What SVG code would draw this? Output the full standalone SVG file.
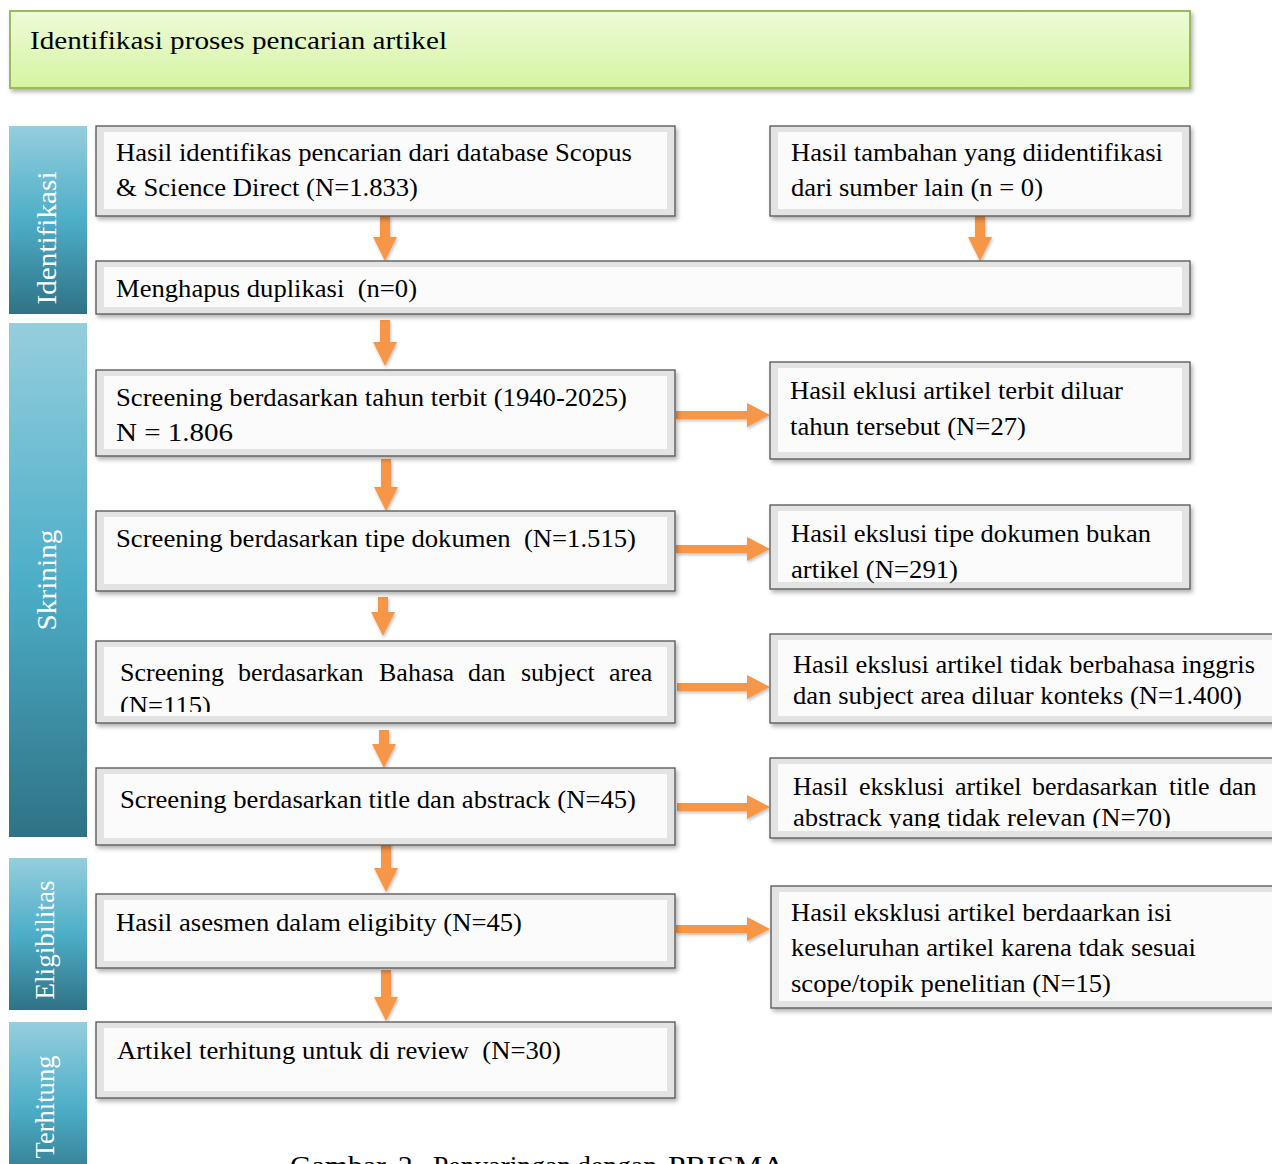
<svg xmlns="http://www.w3.org/2000/svg" width="1272" height="1164" viewBox="0 0 1272 1164">
<style>
text{font-family:"Liberation Serif","Times New Roman",serif;font-size:26px;fill:#000;white-space:pre}
.side{fill:#fff;font-size:27px}
.ob{fill:#e3e3e3;stroke:#555;stroke-width:1.3}
.ib{fill:#fbfbfb}
.arr{fill:#f79646}
</style>
<defs>
<linearGradient id="gHead" x1="0" y1="0" x2="0" y2="1">
<stop offset="0" stop-color="#eefbd8"/><stop offset="1" stop-color="#d5f4a2"/>
</linearGradient>
<linearGradient id="gSide" x1="0" y1="0" x2="0" y2="1">
<stop offset="0" stop-color="#95cedd"/><stop offset="0.5" stop-color="#4daec8"/><stop offset="1" stop-color="#2f7285"/>
</linearGradient>
<filter id="sh" x="-5%" y="-10%" width="110%" height="130%">
<feDropShadow dx="2" dy="3" stdDeviation="2" flood-color="#000" flood-opacity="0.3"/>
</filter>
<filter id="ash" x="-30%" y="-30%" width="160%" height="160%">
<feDropShadow dx="1" dy="2" stdDeviation="1.5" flood-color="#000" flood-opacity="0.25"/>
</filter>
<clipPath id="c5"><rect x="96" y="641" width="580" height="71"/></clipPath>
<clipPath id="cR5"><rect x="770" y="758" width="502" height="70"/></clipPath>
</defs>
<rect width="1272" height="1164" fill="#fff"/>

<g id="header">
<rect x="10" y="11" width="1180" height="77" fill="url(#gHead)" stroke="#9bbb59" stroke-width="2" filter="url(#sh)"/>
<text x="30" y="49" textLength="417" lengthAdjust="spacingAndGlyphs">Identifikasi proses pencarian artikel</text>
</g>

<g id="side-identifikasi">
<rect x="9" y="126" width="78" height="188" fill="url(#gSide)"/>
<text class="side" transform="translate(56,238) rotate(-90)" text-anchor="middle" textLength="133" lengthAdjust="spacingAndGlyphs">Identifikasi</text>
</g>
<g id="side-skrining">
<rect x="9" y="323" width="78" height="514" fill="url(#gSide)"/>
<text class="side" transform="translate(56,580) rotate(-90)" text-anchor="middle" textLength="101" lengthAdjust="spacingAndGlyphs">Skrining</text>
</g>
<g id="side-eligibilitas">
<rect x="9" y="858" width="78" height="152" fill="url(#gSide)"/>
<text class="side" transform="translate(54,940) rotate(-90)" text-anchor="middle" textLength="119" lengthAdjust="spacingAndGlyphs">Eligibilitas</text>
</g>
<g id="side-terhitung">
<rect x="9" y="1022" width="78" height="170" fill="url(#gSide)"/>
<text class="side" transform="translate(54,1107) rotate(-90)" text-anchor="middle" textLength="103" lengthAdjust="spacingAndGlyphs">Terhitung</text>
</g>

<g id="connectors" class="arr" filter="url(#ash)">
<polygon points="380,216 390,216 390,237 397,237 385,261 373,237 380,237"/>
<polygon points="975,216 985,216 985,237 992,237 980,261 968,237 975,237"/>
<polygon points="380,320 390,320 390,342 397,342 385,366 373,342 380,342"/>
<polygon points="381,459 391,459 391,487 398,487 386,511 374,487 381,487"/>
<polygon points="378,597 388,597 388,612 395,612 383,636 371,612 378,612"/>
<polygon points="379,730 389,730 389,744 396,744 384,768 372,744 379,744"/>
<polygon points="381,842 391,842 391,868 398,868 386,892 374,868 381,868"/>
<polygon points="381,970 391,970 391,997 398,997 386,1021 374,997 381,997"/>
<polygon points="676,411 747,411 747,403 770,415 747,427 747,419 676,419"/>
<polygon points="676,545 747,545 747,537 770,549 747,561 747,553 676,553"/>
<polygon points="677,683 747,683 747,675 770,687 747,699 747,691 677,691"/>
<polygon points="677,803 747,803 747,795 770,807 747,819 747,811 677,811"/>
<polygon points="676,925 747,925 747,917 770,929 747,941 747,933 676,933"/>
</g>

<g id="n-scopus">
<rect class="ob" x="96" y="126" width="579" height="90" filter="url(#sh)"/>
<rect class="ib" x="104" y="132" width="563" height="77"/>
<text x="116" y="161" textLength="516" lengthAdjust="spacingAndGlyphs">Hasil identifikas pencarian dari database Scopus</text>
<text x="116" y="196" textLength="302" lengthAdjust="spacingAndGlyphs">&amp; Science Direct (N=1.833)</text>
</g>
<g id="n-lain">
<rect class="ob" x="770" y="126" width="420" height="90" filter="url(#sh)"/>
<rect class="ib" x="778" y="132" width="404" height="77"/>
<text x="791" y="161" textLength="372" lengthAdjust="spacingAndGlyphs">Hasil tambahan yang diidentifikasi</text>
<text x="791" y="196" textLength="252" lengthAdjust="spacingAndGlyphs">dari sumber lain (n = 0)</text>
</g>
<g id="n-duplikasi">
<rect class="ob" x="96" y="261" width="1094" height="53" filter="url(#sh)"/>
<rect class="ib" x="104" y="267" width="1078" height="40"/>
<text x="116" y="297" textLength="301" lengthAdjust="spacingAndGlyphs">Menghapus duplikasi  (n=0)</text>
</g>
<g id="n-tahun">
<rect class="ob" x="96" y="370" width="579" height="86" filter="url(#sh)"/>
<rect class="ib" x="104" y="376" width="563" height="73"/>
<text x="116" y="406" textLength="511" lengthAdjust="spacingAndGlyphs">Screening berdasarkan tahun terbit (1940-2025)</text>
<text x="116" y="441" textLength="117" lengthAdjust="spacingAndGlyphs">N = 1.806</text>
</g>
<g id="n-ex-tahun">
<rect class="ob" x="770" y="362" width="420" height="97" filter="url(#sh)"/>
<rect class="ib" x="778" y="368" width="404" height="84"/>
<text x="790" y="399" textLength="333" lengthAdjust="spacingAndGlyphs">Hasil eklusi artikel terbit diluar</text>
<text x="790" y="435" textLength="236" lengthAdjust="spacingAndGlyphs">tahun tersebut (N=27)</text>
</g>
<g id="n-tipe">
<rect class="ob" x="96" y="511" width="579" height="80" filter="url(#sh)"/>
<rect class="ib" x="104" y="517" width="563" height="67"/>
<text x="116" y="547" textLength="520" lengthAdjust="spacingAndGlyphs">Screening berdasarkan tipe dokumen  (N=1.515)</text>
</g>
<g id="n-ex-tipe">
<rect class="ob" x="770" y="505" width="420" height="84" filter="url(#sh)"/>
<rect class="ib" x="778" y="511" width="404" height="71"/>
<text x="791" y="542" textLength="360" lengthAdjust="spacingAndGlyphs">Hasil ekslusi tipe dokumen bukan</text>
<text x="791" y="578" textLength="167" lengthAdjust="spacingAndGlyphs">artikel (N=291)</text>
</g>
<g id="n-bahasa">
<rect class="ob" x="96" y="641" width="579" height="82" filter="url(#sh)"/>
<rect class="ib" x="104" y="647" width="563" height="69"/>
<g clip-path="url(#c5)">
<text y="681"><tspan x="120">Screening</tspan> <tspan x="238">berdasarkan</tspan> <tspan x="379">Bahasa</tspan> <tspan x="468">dan</tspan> <tspan x="521">subject</tspan> <tspan x="609">area</tspan></text>
<text x="120" y="714" textLength="91" lengthAdjust="spacingAndGlyphs">(N=115)</text>
</g>
</g>
<g id="n-ex-bahasa">
<rect class="ob" x="770" y="634" width="510" height="89" filter="url(#sh)"/>
<rect class="ib" x="778" y="640" width="494" height="76"/>
<text x="793" y="673" textLength="462" lengthAdjust="spacingAndGlyphs">Hasil ekslusi artikel tidak berbahasa inggris</text>
<text x="793" y="704" textLength="449" lengthAdjust="spacingAndGlyphs">dan subject area diluar konteks (N=1.400)</text>
</g>
<g id="n-title">
<rect class="ob" x="96" y="768" width="579" height="77" filter="url(#sh)"/>
<rect class="ib" x="104" y="774" width="563" height="64"/>
<text x="120" y="808" textLength="516" lengthAdjust="spacingAndGlyphs">Screening berdasarkan title dan abstrack (N=45)</text>
</g>
<g id="n-ex-title">
<rect class="ob" x="770" y="758" width="510" height="80" filter="url(#sh)"/>
<rect class="ib" x="778" y="764" width="494" height="67"/>
<g clip-path="url(#cR5)">
<text y="795"><tspan x="793">Hasil</tspan> <tspan x="859">eksklusi</tspan> <tspan x="955">artikel</tspan> <tspan x="1032">berdasarkan</tspan> <tspan x="1169">title</tspan> <tspan x="1219">dan</tspan></text>
<text x="793" y="826" textLength="378" lengthAdjust="spacingAndGlyphs">abstrack yang tidak relevan (N=70)</text>
</g>
</g>
<g id="n-eligibility">
<rect class="ob" x="96" y="894" width="579" height="74" filter="url(#sh)"/>
<rect class="ib" x="104" y="900" width="563" height="61"/>
<text x="116" y="931" textLength="406" lengthAdjust="spacingAndGlyphs">Hasil asesmen dalam eligibity (N=45)</text>
</g>
<g id="n-ex-isi">
<rect class="ob" x="771" y="886" width="510" height="122" filter="url(#sh)"/>
<rect class="ib" x="779" y="892" width="494" height="109"/>
<text x="791" y="921" textLength="381" lengthAdjust="spacingAndGlyphs">Hasil eksklusi artikel berdaarkan isi</text>
<text x="791" y="956" textLength="405" lengthAdjust="spacingAndGlyphs">keseluruhan artikel karena tdak sesuai</text>
<text x="791" y="992" textLength="320" lengthAdjust="spacingAndGlyphs">scope/topik penelitian (N=15)</text>
</g>
<g id="n-review">
<rect class="ob" x="96" y="1022" width="579" height="76" filter="url(#sh)"/>
<rect class="ib" x="104" y="1028" width="563" height="63"/>
<text x="117" y="1059" textLength="444" lengthAdjust="spacingAndGlyphs">Artikel terhitung untuk di review  (N=30)</text>
</g>

<g id="caption">
<text y="1175" style="font-size:28px"><tspan x="290" textLength="96" lengthAdjust="spacingAndGlyphs">Gambar</tspan><tspan x="398" textLength="22" lengthAdjust="spacingAndGlyphs">2.</tspan><tspan x="433" textLength="138" lengthAdjust="spacingAndGlyphs">Penyaringan</tspan><tspan x="577" textLength="80" lengthAdjust="spacingAndGlyphs">dengan</tspan><tspan x="668" textLength="117" lengthAdjust="spacingAndGlyphs">PRISMA</tspan></text>
</g>
</svg>
